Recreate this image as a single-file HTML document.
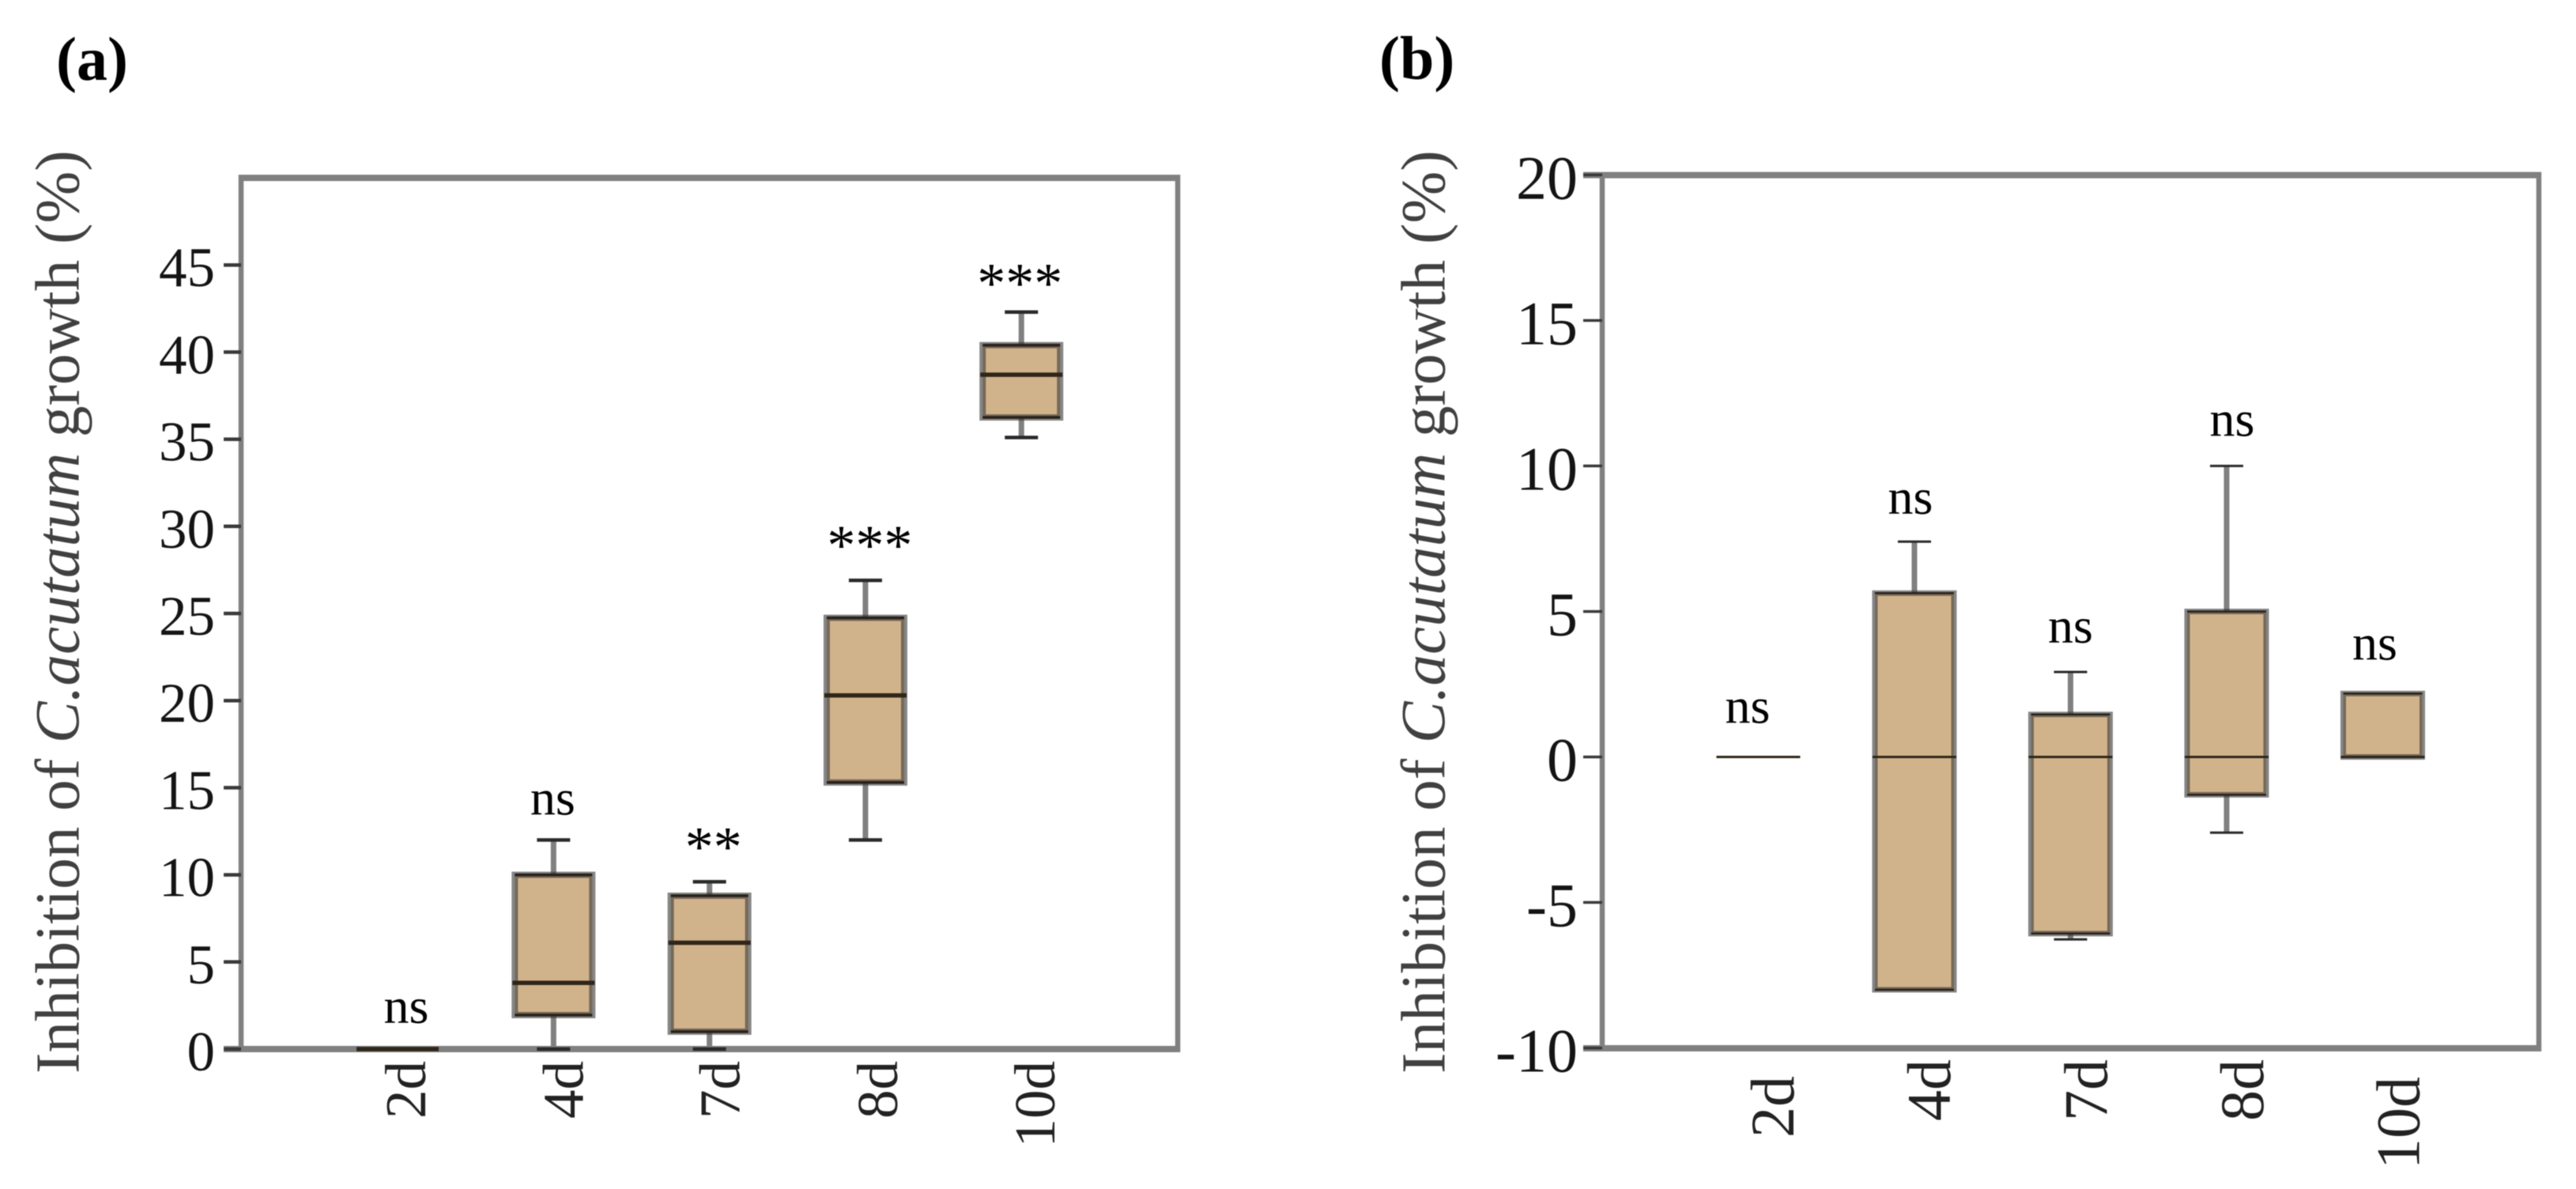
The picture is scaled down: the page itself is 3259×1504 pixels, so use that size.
<!DOCTYPE html>
<html lang="en">
<head>
<meta charset="utf-8">
<title>Inhibition of C. acutatum growth</title>
<style>
html,body{margin:0;padding:0;background:#fff;}
svg{display:block;filter:blur(0.6px);font-family:"Liberation Serif","Times New Roman",serif;}
</style>
</head>
<body>
<svg id="figure" xmlns="http://www.w3.org/2000/svg" width="3259" height="1504" viewBox="0 0 3259 1504">
  <rect x="0" y="0" width="3259" height="1504" fill="#ffffff"/>

  <text x="71" y="101" font-size="78" font-weight="bold" fill="#000">(a)</text>
  <text x="1745" y="100" font-size="78" font-weight="bold" fill="#000">(b)</text>

  <g id="panel-a">
    <text transform="translate(99.5,1358) rotate(-90)" font-size="79.2" fill="#404040">Inhibition of <tspan font-style="italic">C.acutatum</tspan> growth (%)</text>
    <line x1="302" y1="225" x2="1493" y2="225" stroke="#808080" stroke-width="8"/>
    <line x1="283" y1="1327" x2="1493" y2="1327" stroke="#808080" stroke-width="8"/>
    <line x1="305" y1="221" x2="305" y2="1331" stroke="#808080" stroke-width="6.5"/>
    <line x1="1490" y1="221" x2="1490" y2="1331" stroke="#808080" stroke-width="6.5"/>
  </g>

  <g id="panel-b">
    <text transform="translate(1827.5,1358) rotate(-90)" font-size="79.2" fill="#404040">Inhibition of <tspan font-style="italic">C.acutatum</tspan> growth (%)</text>
    <line x1="2003" y1="221.5" x2="3215" y2="221.5" stroke="#808080" stroke-width="8"/>
    <line x1="2003" y1="1326" x2="3215" y2="1326" stroke="#808080" stroke-width="8"/>
    <line x1="2027" y1="218" x2="2027" y2="1330" stroke="#808080" stroke-width="6.5"/>
    <line x1="3212" y1="218" x2="3212" y2="1330" stroke="#808080" stroke-width="6.5"/>
  </g>
</svg>

<script>
const categories = ['2d', '4d', '7d', '8d', '10d'];

const aTicks = [0, 5, 10, 15, 20, 25, 30, 35, 40, 45];
const aWhiskerLow = [0, 0, 0, 12.0, 35.1];
const aQ1 = [0, 1.95, 1.0, 15.3, 36.25];
const aMedian = [0, 3.8, 6.1, 20.3, 38.7];
const aQ3 = [0, 10.0, 8.8, 24.75, 40.4];
const aWhiskerHigh = [0, 12.0, 9.6, 26.9, 42.3];
const aSignificance = ['ns', 'ns', '**', '***', '***'];

const bTicks = [-10, -5, 0, 5, 10, 15, 20];
const bWhiskerLow = [0, -8.0, -6.27, -2.6, 0];
const bQ1 = [0, -8.0, -6.07, -1.3, 0];
const bMedian = [0, 0, 0, 0, 0];
const bQ3 = [0, 5.63, 1.46, 5.0, 2.18];
const bWhiskerHigh = [0, 7.4, 2.92, 10.0, 2.2];
const bSignificance = ['ns', 'ns', 'ns', 'ns', 'ns'];

const SVG_NS = 'http://www.w3.org/2000/svg';

function make(parent, tag, attrs, text) {
  const el = document.createElementNS(SVG_NS, tag);
  for (const k in attrs) el.setAttribute(k, attrs[k]);
  if (text !== undefined) el.textContent = text;
  parent.appendChild(el);
  return el;
}

function drawPanel(cfg) {
  const root = document.getElementById(cfg.id);
  const yScale = v => cfg.yZero - v * cfg.yPerUnit;
  const xScale = i => cfg.xFirst + i * cfg.xStep;

  cfg.ticks.forEach(t => {
    const tick = make(root, 'line', {
      x1: cfg.tickLeft, x2: cfg.axisX, y1: yScale(t), y2: yScale(t),
      stroke: '#3a3a3a', 'stroke-width': cfg.tickWidth
    });
    
    
    const label = make(root, 'text', {
      x: cfg.tickLabelRight, y: yScale(t) + cfg.tickLabelDrop,
      'text-anchor': 'end', 'font-size': cfg.tickFont, fill: '#141414'
    }, String(t));
    
    
  });

  categories.forEach((cat, i) => {
    const cx = xScale(i);
    const group = make(root, 'g', {});
    
    

    const low = yScale(cfg.whiskerLow[i]);
    const high = yScale(cfg.whiskerHigh[i]);
    const q1 = yScale(cfg.q1[i]);
    const q3 = yScale(cfg.q3[i]);
    const med = yScale(cfg.median[i]);

    if (Math.abs(high - q3) > 2.5) {
      const upper = make(group, 'line', { x1: cx, x2: cx, y1: high, y2: q3, stroke: '#808080', 'stroke-width': 7 });
      
      
      const capHigh = make(group, 'line', { x1: cx - 21, x2: cx + 21, y1: high, y2: high, stroke: '#2a2a2a', 'stroke-width': cfg.capWidth });
      
      
    }
    if (Math.abs(low - q1) > 2.5) {
      const lower = make(group, 'line', { x1: cx, x2: cx, y1: q1, y2: low, stroke: '#808080', 'stroke-width': 7 });
      
      
      const capLow = make(group, 'line', { x1: cx - 21, x2: cx + 21, y1: low, y2: low, stroke: '#2a2a2a', 'stroke-width': cfg.capWidth });
      
      
    }

    if (Math.abs(q1 - q3) > 0.5) {
      const body = make(group, 'rect', {
        x: cx - cfg.boxHalf, y: q3, width: cfg.boxHalf * 2, height: q1 - q3,
        fill: '#d1b38b', stroke: 'rgba(60,60,60,0.62)', 'stroke-width': cfg.boxStroke
      });
      
      
      const edgeTop = make(group, 'line', { x1: cx - cfg.boxHalf, x2: cx + cfg.boxHalf, y1: q3, y2: q3, stroke: '#2a221a', 'stroke-width': cfg.edgeWidth });
      
      
      const edgeBottom = make(group, 'line', { x1: cx - cfg.boxHalf, x2: cx + cfg.boxHalf, y1: q1, y2: q1, stroke: '#2a221a', 'stroke-width': cfg.edgeWidth });
      
      
    }

    const median = make(group, 'line', {
      x1: cx - cfg.boxHalf - 3, x2: cx + cfg.boxHalf + 3, y1: med, y2: med,
      stroke: '#2f2619', 'stroke-width': cfg.medianWidth
    });
    
    

    const sig = cfg.significance[i];
    const stars = sig.indexOf('*') >= 0;
    const topValue = yScale(Math.max(cfg.whiskerHigh[i], cfg.q3[i]));
    const mark = make(group, 'text', {
      x: cx + cfg.sigDx[i], y: topValue - cfg.sigGap[i],
      'text-anchor': 'middle', 'font-size': stars ? 72 : 64, fill: '#000'
    }, sig);
    
    

    const catLabel = make(root, 'text', {
      transform: 'translate(' + (cx + cfg.catDx[i]) + ',' + cfg.catTop[i] + ') rotate(-90)',
      'text-anchor': 'end', 'font-size': cfg.catFont, fill: '#222222'
    }, cat);
    
    
  });
}

drawPanel({
  id: 'panel-a',
  ticks: aTicks, whiskerLow: aWhiskerLow, q1: aQ1, median: aMedian, q3: aQ3, whiskerHigh: aWhiskerHigh, significance: aSignificance,
  yZero: 1327, yPerUnit: 22.04, xFirst: 503, xStep: 197.3,
  axisX: 305, tickLeft: 283, tickWidth: 4.5, tickLabelRight: 272, tickLabelDrop: 27, tickFont: 71,
  boxHalf: 49, boxStroke: 8, edgeWidth: 3.5, medianWidth: 5.5, capWidth: 4.5,
  sigDx: [11, -1, 5, 5.5, -2], sigGap: [33, 32, 20, 20, 12],
  catDx: [35, 37, 38, 40, 42], catTop: [1342, 1342, 1342, 1342, 1342], catFont: 73
});

drawPanel({
  id: 'panel-b',
  ticks: bTicks, whiskerLow: bWhiskerLow, q1: bQ1, median: bMedian, q3: bQ3, whiskerHigh: bWhiskerHigh, significance: bSignificance,
  yZero: 957.5, yPerUnit: 36.81, xFirst: 2224.5, xStep: 197.5,
  axisX: 2027, tickLeft: 2003, tickWidth: 3.5, tickLabelRight: 1996, tickLabelDrop: 30, tickFont: 78,
  boxHalf: 50, boxStroke: 7, edgeWidth: 2.5, medianWidth: 3, capWidth: 3,
  sigDx: [-13.5, -5, 0, 7, -10], sigGap: [43, 35, 37, 38, 42],
  catDx: [44.5, 45, 46, 46, 46], catTop: [1361, 1340, 1340, 1340, 1362], catFont: 78
});
</script>
</body>
</html>
